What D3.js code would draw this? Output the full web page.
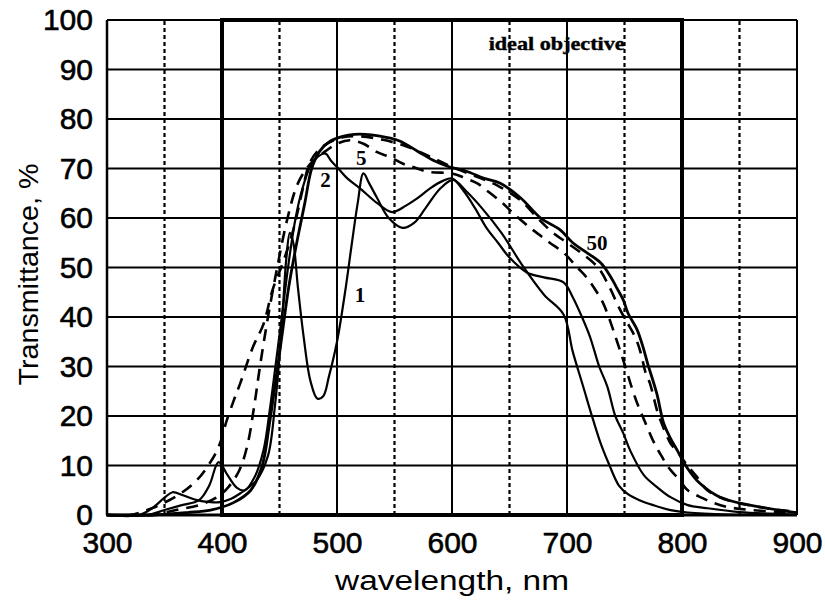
<!DOCTYPE html>
<html>
<head>
<meta charset="utf-8">
<script src="https://cdn.jsdelivr.net/npm/d3@7/dist/d3.min.js"></script>
<style>
html,body{margin:0;padding:0;background:#fff;}
svg{display:block;}
</style>
</head>
<body>
<svg id="chart" width="825" height="606"></svg>
<script>
// ---------- data ----------
const xTicks = [300, 400, 500, 600, 700, 800, 900];
const xDotted = [350, 450, 550, 650, 750, 850];
const yTicks = [0, 10, 20, 30, 40, 50, 60, 70, 80, 90, 100];
const idealRange = [400, 800];
const idealLevel = 100;

const curve1 = [[300,0],[328,0],[340,1.5],[350,3.5],[357,4.6],[366,4],[378,3],[390,2.6],[398,2.6],[408,3.3],[416,4.4],[430,7],[440,12],[446,22],[450,32],[453,42],[456,52],[459,57],[462,55],[466,46],[471,36],[477,27],[483,23.5],[488,24],[493,28],[500,35],[507,45],[513,55],[518,63],[523,69],[528,67],[535,64],[545,60],[557,58],[567,59],[577,62],[590,66],[601,67.7],[612,65.5],[626,62],[643,57],[661,50.5],[680,44.5],[697,40.5],[705,33],[714,26],[723,19],[730,14],[737,10],[745,6],[753,4.2],[763,3],[775,2],[790,1],[805,0.5],[840,0.1],[900,0]];

const curve2 = [[300,0],[335,0],[350,1],[365,2],[380,3],[389,6],[397,10.7],[405,8],[413,5.5],[420,5],[428,7.5],[436,13],[442,22],[447,31],[452,40],[458,51],[464,60],[470,66],[477,70.5],[484,72.5],[490,73],[495,71.5],[500,70.3],[509,68],[520,66],[535,63],[548,61.2],[560,62.5],[570,64],[581,66],[592,67.5],[600,68],[610,65.5],[620,62],[630,58],[640,55],[650,52],[665,49],[680,48],[697,47],[705,44],[713,40],[720,36],[728,30],[735,26],[742,20],[749,16.5],[755,13],[767,8],[778,5.7],[790,3.6],[805,2],[821,1.4],[850,0.6],[900,0.1]];

const curve5 = [[300,0],[340,0],[360,1],[380,2],[395,3.5],[405,5.5],[415,9],[422,14],[428,22],[433,30],[440,40],[448,50],[457,60],[466,67],[477,71],[490,73.5],[500,75],[511,75.7],[523,75],[535,73.3],[546,72.3],[557,71],[566,70.3],[580,69.3],[600,69],[612,68],[622,67],[630,65.6],[644,63],[653,61],[668,58],[676,56.6],[685,55],[697,53],[709,50],[717,48],[726,45],[731,43],[735,40.8],[740,37.5],[745,34],[750,30.5],[756,26],[761,22.6],[766,19.8],[772,16.5],[777,14],[782,12],[788,9.7],[798,7],[805,5],[818,3.4],[828,2.4],[840,1.6],[860,1],[900,0.4]];

const curve10 = [[300,0],[320,0],[335,1],[350,2.5],[365,4.5],[378,7],[388,10],[397,13.7],[404,19],[410,23],[416,26.7],[427,34],[436,38.5],[444,45.5],[453,51],[462,57.6],[470,65.6],[476,71],[483,73.5],[491,75],[505,76.3],[520,76.5],[540,75.8],[560,74.5],[580,72.5],[600,70.3],[620,68.5],[640,66.5],[660,63.5],[676,59.6],[688,57],[700,55],[712,53],[727,50],[737,46],[745,42],[752,39],[757,37],[761,35],[765,32],[768,29],[772,26.7],[779,20.6],[785,17],[790,14.5],[797,12.5],[803,10.5],[813,7.7],[822,5],[840,3],[870,1.5],[900,0.6]];

const curve50 = [[300,0],[340,0],[370,0.5],[390,1],[410,2.5],[425,5],[435,10],[441,18],[446,26],[452,36],[458,46],[465,55],[472,63],[478,70],[485,73.5],[494,75.5],[505,76.5],[515,76.9],[530,76.8],[545,76.2],[555,75.5],[570,73.5],[585,71.5],[598,70.3],[612,69.5],[628,68],[642,67],[660,64],[677,60],[694,57.6],[705,55],[714,53.5],[729,51],[737,48.5],[743,46],[749,43.4],[753,40.8],[761,37.4],[766,34],[770,30.7],[778,24.6],[784,18.6],[790,15.5],[796,13],[804,9.7],[815,6.5],[833,3.6],[859,2],[896,0.6],[900,0.5]];

const curveLabels = [
  {text: "1", nm: 520, t: 43},
  {text: "2", nm: 490, t: 66.3},
  {text: "5", nm: 521, t: 70.8},
  {text: "50", nm: 726, t: 53.6}
];

// ---------- layout ----------
const svg = d3.select("#chart");
const x = d3.scaleLinear().domain([300, 900]).range([107, 797]);
const y = d3.scaleLinear().domain([0, 100]).range([515, 20]);

const g = svg.append("g");

// horizontal grid
g.selectAll("line.hgrid").data(yTicks).join("line")
  .attr("x1", x(300)).attr("x2", x(900))
  .attr("y1", d => y(d)).attr("y2", d => y(d))
  .attr("stroke", "#000").attr("stroke-width", 2);

// vertical solid grid
g.selectAll("line.vgrid").data(xTicks).join("line")
  .attr("x1", d => x(d)).attr("x2", d => x(d))
  .attr("y1", y(0)).attr("y2", y(100))
  .attr("stroke", "#000").attr("stroke-width", d => (d === 300 ? 2.5 : 2));

// vertical dotted
g.selectAll("line.vdot").data(xDotted).join("line")
  .attr("x1", d => x(d)).attr("x2", d => x(d))
  .attr("y1", y(0)).attr("y2", y(100))
  .attr("stroke", "#000").attr("stroke-width", 2.2)
  .attr("stroke-dasharray", "4,3");

// bottom axis line thick
g.append("line")
  .attr("x1", x(300) - 1).attr("x2", x(900))
  .attr("y1", y(0)).attr("y2", y(0))
  .attr("stroke", "#000").attr("stroke-width", 3);

// ideal objective rectangle
g.append("rect")
  .attr("x", x(idealRange[0])).attr("y", y(idealLevel))
  .attr("width", x(idealRange[1]) - x(idealRange[0]))
  .attr("height", y(0) - y(idealLevel))
  .attr("fill", "none").attr("stroke", "#000").attr("stroke-width", 4);

g.append("text")
  .attr("x", x(691)).attr("y", y(94.0))
  .attr("text-anchor", "middle")
  .attr("font-family", "Liberation Serif, Times New Roman, serif")
  .attr("font-weight", "bold")
  .attr("font-size", 19)
  .attr("stroke", "#000").attr("stroke-width", 0.4)
  .attr("textLength", 136).attr("lengthAdjust", "spacingAndGlyphs")
  .text("ideal objective");

// curves
const line = d3.line().x(d => x(d[0])).y(d => y(d[1])).curve(d3.curveCatmullRom.alpha(0.5));
const series = [
  {data: curve1, dash: null, w: 2.2},
  {data: curve2, dash: null, w: 2.2},
  {data: curve5, dash: "12,8", w: 2.6},
  {data: curve10, dash: "12,8", w: 2.6},
  {data: curve50, dash: null, w: 2.8}
];
g.selectAll("path.curve").data(series).join("path")
  .attr("d", d => line(d.data))
  .attr("fill", "none").attr("stroke", "#000")
  .attr("stroke-width", d => d.w)
  .attr("stroke-dasharray", d => d.dash)
  .attr("stroke-linejoin", "round");

// curve labels
g.selectAll("text.clab").data(curveLabels).join("text")
  .attr("x", d => x(d.nm)).attr("y", d => y(d.t))
  .attr("text-anchor", "middle")
  .attr("font-family", "Liberation Serif, Times New Roman, serif")
  .attr("font-weight", "bold")
  .attr("font-size", 21)
  .text(d => d.text);

// axes
const xAxis = d3.axisBottom(x).tickValues(xTicks).tickSize(0).tickPadding(17).tickFormat(d3.format("d"));
const yAxis = d3.axisLeft(y).tickValues(yTicks).tickSize(0).tickPadding(14).tickFormat(d3.format("d"));

const gx = svg.append("g").attr("transform", `translate(0,${y(0)})`).call(xAxis);
const gy = svg.append("g").attr("transform", `translate(${x(300)},0)`).call(yAxis);
[gx, gy].forEach(a => {
  a.select(".domain").remove();
  a.selectAll("text")
    .attr("font-family", "Liberation Sans, Arial, sans-serif")
    .attr("font-size", 30)
    .attr("fill", "#000")
    .attr("stroke", "#000").attr("stroke-width", 0.6);
});

svg.append("text")
  .attr("x", x(600)).attr("y", 590)
  .attr("text-anchor", "middle")
  .attr("font-family", "Liberation Sans, Arial, sans-serif")
  .attr("font-size", 27)
  .attr("textLength", 234).attr("lengthAdjust", "spacingAndGlyphs")
  .text("wavelength, nm");

svg.append("text")
  .attr("transform", `translate(38,${y(50) + 7}) rotate(-90)`)
  .attr("text-anchor", "middle")
  .attr("font-family", "Liberation Sans, Arial, sans-serif")
  .attr("font-size", 27)
  .attr("textLength", 222).attr("lengthAdjust", "spacingAndGlyphs")
  .text("Transmittance, %");
</script>
</body>
</html>
